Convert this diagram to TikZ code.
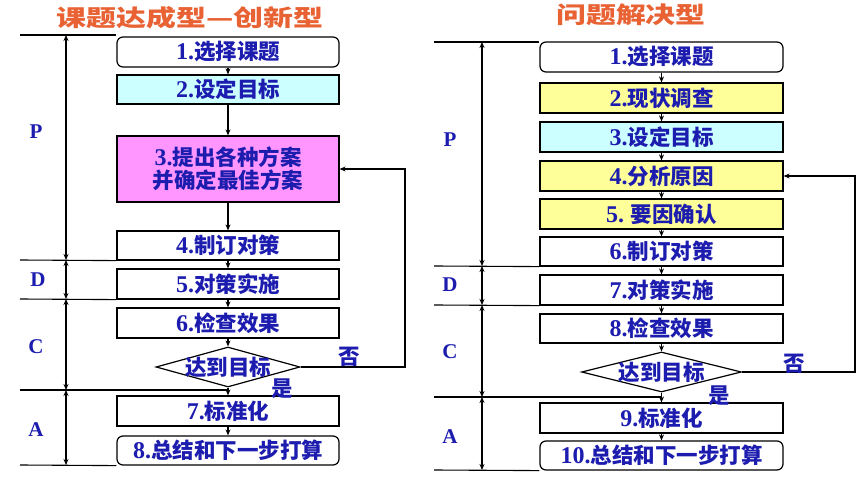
\documentclass[tikz,border=0pt]{standalone}
\usepackage{fontspec}
\newfontfamily\cjk{Noto Sans CJK SC}
\newfontfamily\lat{Liberation Serif}
\usepackage{tikz}
\usetikzlibrary{arrows.meta,shapes.geometric}
\definecolor{txtblue}{RGB}{28,28,175}
\definecolor{ttlorange}{RGB}{232,98,52}
\definecolor{boxcyan}{RGB}{204,255,255}
\definecolor{boxpink}{RGB}{255,150,255}
\definecolor{boxyellow}{RGB}{255,255,153}
\newcommand{\nr}[1]{{\lat\bfseries\fontsize{24}{24}\selectfont #1}}
\tikzset{
  stepbox/.style={draw, line width=1.2pt, fill=white, inner sep=0pt,
    font=\cjk\bfseries\fontsize{21.5}{23}\selectfont, text=txtblue},
  roundbox/.style={stepbox, rounded corners=6pt},
  decide/.style={diamond, draw, line width=1.2pt, fill=white, inner sep=0pt},
  pdca/.style={font=\lat\bfseries\fontsize{21}{21}\selectfont, text=txtblue},
  yesno/.style={font=\cjk\bfseries\fontsize{21.5}{23}\selectfont, text=txtblue},
  ttl/.style={font=\cjk\bfseries\fontsize{23}{26}\selectfont, text=ttlorange},
  arr/.style={-{Stealth[length=6pt,width=5pt]}, line width=1.1pt},
  span/.style={{Stealth[length=6pt,width=5pt]}-{Stealth[length=6pt,width=5pt]}, line width=1.1pt},
  sep/.style={line width=1.1pt}
}
\begin{document}
\begin{tikzpicture}[x=1pt, y=-1pt]
            \useasboundingbox (0,0) rectangle (865,478);
            % 左: 课题达成型
            \node[ttl] (ltitle) at (190,18) {\scalebox{1.3}[1]{课题达成型—创新型}};
            \node[roundbox, minimum width=222, minimum height=30] (l1) at (228,52) {\nr{1.}选择课题};
            \node[stepbox, fill=boxcyan, minimum width=222, minimum height=29] (l2) at (228,89.5) {\nr{2.}设定目标};
            \node[stepbox, fill=boxpink, minimum width=222, minimum height=66, align=center] (l3) at (228,169) {\nr{3.}提出各种方案\\并确定最佳方案};
            \node[stepbox, minimum width=222, minimum height=29] (l4) at (228,245.5) {\nr{4.}制订对策};
            \node[stepbox, minimum width=222, minimum height=30] (l5) at (228,284) {\nr{5.}对策实施};
            \node[stepbox, minimum width=222, minimum height=30] (l6) at (228,323) {\nr{6.}检查效果};
            \node[decide, minimum width=144, minimum height=40,
              label={[yesno]center:达到目标}] (ld) at (228,367) {};
            \node[stepbox, minimum width=222, minimum height=30] (l7) at (228,411) {\nr{7.}标准化};
            \node[roundbox, minimum width=222, minimum height=29] (l8) at (228,450.5) {\nr{8.}总结和下一步打算};
            \draw[arr] (l1) -- (l2);
            \draw[arr] (l2) -- (l3);
            \draw[arr] (l3) -- (l4);
            \draw[arr] (l4) -- (l5);
            \draw[arr] (l5) -- (l6);
            \draw[arr] (l6) -- (ld);
            \draw[arr] (ld) -- (l7);
            \draw[arr] (l7) -- (l8);
            % 否: 返回
            \coordinate (lback) at (405,367);
            \draw[arr] (ld.east) -- (lback) |- (l3.east);
            \node[yesno] (lno) at (349,357) {否};
            \node[yesno] (lyes) at (282,389) {是};
            % PDCA
            \coordinate (lp0) at (66,35);
            \coordinate (lp1) at (66,260);
            \coordinate (lp2) at (66,299);
            \coordinate (lp3) at (66,390);
            \coordinate (lp4) at (66,465);
            \draw[sep] (20,35) -- (l1.north west |- lp0);
            \draw[sep] (20,260) -- (l4.south west);
            \draw[sep] (20,299) -- (l5.south west);
            \draw[sep] (20,390) -- (ld.south |- lp3);
            \draw[sep] (20,465) -- (l8.south west);
            \draw[span] (lp0) -- (lp1);
            \draw[span] (lp1) -- (lp2);
            \draw[span] (lp2) -- (lp3);
            \draw[span] (lp3) -- (lp4);
            \node[pdca] (lP) at (36,132) {P};
            \node[pdca] (lD) at (38,280) {D};
            \node[pdca] (lC) at (36,347) {C};
            \node[pdca] (lA) at (36,430) {A};
            % 右: 问题解决型
            \node[ttl] (rtitle) at (631,15) {\scalebox{1.3}[1]{问题解决型}};
            \node[roundbox, minimum width=243, minimum height=30] (r1) at (661.5,57) {\nr{1.}选择课题};
            \node[stepbox, fill=boxyellow, minimum width=243, minimum height=30] (r2) at (661.5,98) {\nr{2.}现状调查};
            \node[stepbox, fill=boxcyan, minimum width=243, minimum height=30] (r3) at (661.5,137) {\nr{3.}设定目标};
            \node[stepbox, fill=boxyellow, minimum width=243, minimum height=30] (r4) at (661.5,176) {\nr{4.}分析原因};
            \node[stepbox, fill=boxyellow, minimum width=243, minimum height=30] (r5) at (661.5,214) {\nr{5.} 要因确认};
            \node[stepbox, minimum width=243, minimum height=29] (r6) at (661.5,251.5) {\nr{6.}制订对策};
            \node[stepbox, minimum width=243, minimum height=30] (r7) at (661.5,290) {\nr{7.}对策实施};
            \node[stepbox, minimum width=243, minimum height=29] (r8) at (661.5,328.5) {\nr{8.}检查效果};
            \node[decide, minimum width=160, minimum height=40,
              label={[yesno]center:达到目标}] (rd) at (661.5,372) {};
            \node[stepbox, minimum width=243, minimum height=30] (r9) at (661.5,418) {\nr{9.}标准化};
            \node[roundbox, minimum width=243, minimum height=29] (r10) at (661.5,455.5) {\nr{10.}总结和下一步打算};
            \draw[arr] (r1) -- (r2);
            \draw[arr] (r2) -- (r3);
            \draw[arr] (r3) -- (r4);
            \draw[arr] (r4) -- (r5);
            \draw[arr] (r5) -- (r6);
            \draw[arr] (r6) -- (r7);
            \draw[arr] (r7) -- (r8);
            \draw[arr] (r8) -- (rd);
            \draw[arr] (rd) -- (r9);
            \draw[arr] (r9) -- (r10);
            % 否: 返回
            \coordinate (rback) at (855,372);
            \draw[arr] (rd.east) -- (rback) |- (r4.east);
            \node[yesno] (rno) at (794,364) {否};
            \node[yesno] (ryes) at (719,396) {是};
            % PDCA
            \coordinate (rp0) at (482,42);
            \coordinate (rp1) at (482,266);
            \coordinate (rp2) at (482,305);
            \coordinate (rp3) at (482,397);
            \coordinate (rp4) at (482,470);
            \draw[sep] (434,42) -- (r1.north west |- rp0);
            \draw[sep] (434,266) -- (r6.south west);
            \draw[sep] (434,305) -- (r7.south west);
            \draw[sep] (434,397) -- (rd.south |- rp3);
            \draw[sep] (434,470) -- (r10.south west);
            \draw[span] (rp0) -- (rp1);
            \draw[span] (rp1) -- (rp2);
            \draw[span] (rp2) -- (rp3);
            \draw[span] (rp3) -- (rp4);
            \node[pdca] (rP) at (450,140) {P};
            \node[pdca] (rD) at (450,285) {D};
            \node[pdca] (rC) at (450,352) {C};
            \node[pdca] (rA) at (450,437) {A};
\end{tikzpicture}
\end{document}
